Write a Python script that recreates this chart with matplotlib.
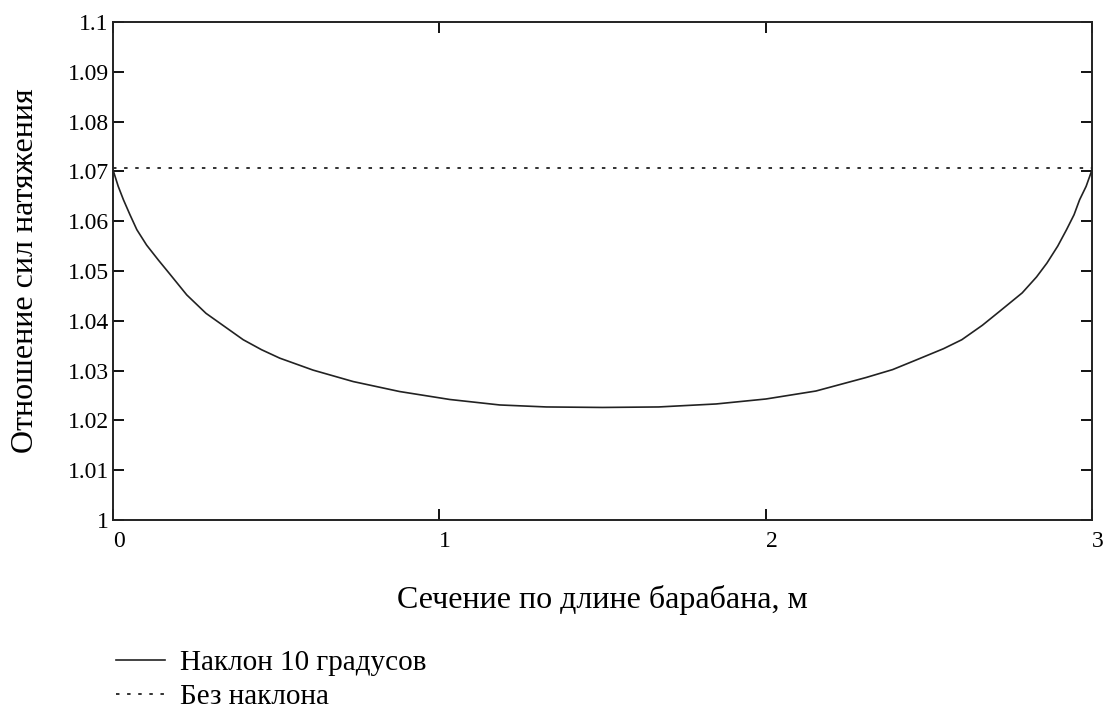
import matplotlib
matplotlib.use("Agg")
import matplotlib.pyplot as plt

plt.rcParams['font.family'] = ['Liberation Serif', 'DejaVu Serif']
plt.rcParams['lines.scale_dashes'] = False

# сечение по длине барабана, м
x_incl = [0.0, 0.016, 0.032, 0.052, 0.073, 0.103, 0.139, 0.174, 0.226, 0.285,
          0.328, 0.399, 0.455, 0.511, 0.613, 0.736, 0.878, 1.032, 1.185, 1.328,
          1.5, 1.672, 1.848, 2.001, 2.154, 2.307, 2.389, 2.460, 2.545, 2.601,
          2.664, 2.715, 2.786, 2.830, 2.862, 2.895, 2.922, 2.945, 2.962, 2.982, 3.0]
# наклон 10 градусов
y_incl = [1.0703, 1.0670, 1.0643, 1.0613, 1.0583, 1.0552, 1.0522, 1.0494, 1.0452, 1.0415,
          1.0395, 1.0362, 1.0342, 1.0325, 1.0301, 1.0278, 1.0258, 1.0242, 1.0231, 1.0227,
          1.0226, 1.0227, 1.0233, 1.0243, 1.0259, 1.0286, 1.0302, 1.0321, 1.0344, 1.0362,
          1.0391, 1.0418, 1.0456, 1.0488, 1.0516, 1.0550, 1.0583, 1.0613, 1.0643, 1.0670, 1.0703]
# без наклона
x_flat = [0.0, 3.0]
y_flat = [1.0706, 1.0706]

x_ticks = [0, 1, 2, 3]
y_ticks = [1.0, 1.01, 1.02, 1.03, 1.04, 1.05, 1.06, 1.07, 1.08, 1.09, 1.1]
y_tick_labels = ['1', '1.01', '1.02', '1.03', '1.04', '1.05', '1.06', '1.07', '1.08', '1.09', '1.1']

fig = plt.figure(figsize=(11.07, 7.10), dpi=100)
ax = fig.add_axes([113/1107, 1 - 520/710, (1092 - 113)/1107, (520 - 22)/710])

ax.plot(x_incl, y_incl, color='#222222', lw=1.2, label='Наклон 10 градусов')
ax.plot(x_flat, y_flat, color='#222222', lw=1.3, dashes=(2.5, 5.5), label='Без наклона')

ax.set_xlim(0, 3)
ax.set_ylim(1.0, 1.1)
ax.set_xticks(x_ticks)
ax.set_xticklabels([str(v) for v in x_ticks], ha='left')
ax.set_yticks(y_ticks)
ax.set_yticklabels(y_tick_labels)
ax.tick_params(direction='in', length=8, width=1.3, top=True, right=True,
               labelsize=17, colors='black')
ax.tick_params(axis='x', pad=8)
ax.tick_params(axis='y', pad=3)
for s in ax.spines.values():
    s.set_linewidth(1.4)
    s.set_color('#222222')

ax.set_xlabel('Сечение по длине барабана, м', fontsize=23, labelpad=24)
ax.set_ylabel('Отношение сил натяжения', fontsize=23, labelpad=20)

ax.legend(loc='upper left', bbox_to_anchor=(101/1107, 1 - 635/710),
          bbox_transform=fig.transFigure, frameon=False, fontsize=21,
          handlelength=1.7, handletextpad=0.5, labelspacing=0.26, borderpad=0)

fig.savefig('out.png', dpi=100)
